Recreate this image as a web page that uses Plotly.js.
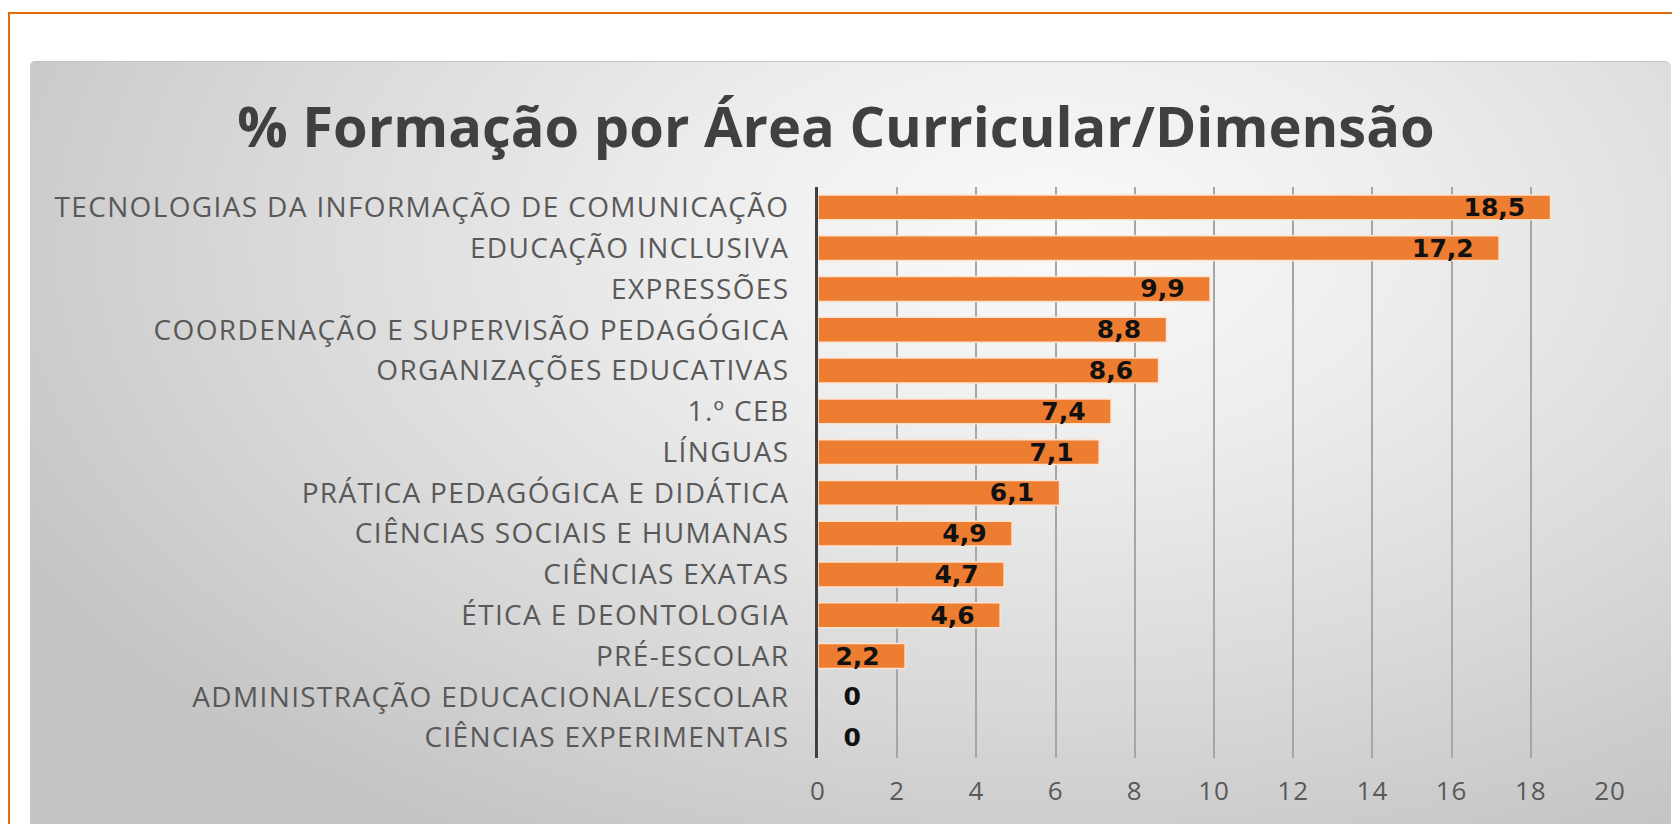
<!DOCTYPE html>
<html>
<head>
<meta charset="utf-8">
<script src="https://cdn.plot.ly/plotly-3.0.1.min.js"></script>
<style>
  html, body { margin:0; padding:0; background:#ffffff; }
  body { width:1672px; height:824px; overflow:hidden; position:relative; }
  #frame { position:absolute; left:8px; top:12px; width:1700px; height:900px;
           border-top:2px solid #e46c0a; border-left:2px solid #e46c0a; }
  #panel { position:absolute; left:30px; top:61px; width:1641px; height:800px;
           border-radius:5px 6px 0 0; border-top:1px solid #c4c4c4;
           background: radial-gradient(ellipse 70% 85% at 62% 22%, #fafafa 0%, #ededed 32%, #d9d9d9 68%, #c5c5c5 100%); }
  #chart { position:absolute; left:0; top:0; width:1672px; height:824px; }
  #chart .ytick text { letter-spacing: 1.35px; }
  #chart .xtick text { letter-spacing: 1px; }
</style>
</head>
<body>
<div id="frame"></div>
<div id="panel"></div>
<div id="chart"></div>
<script>
const categories = [
  "TECNOLOGIAS DA INFORMAÇÃO DE COMUNICAÇÃO",
  "EDUCAÇÃO INCLUSIVA",
  "EXPRESSÕES",
  "COORDENAÇÃO E SUPERVISÃO PEDAGÓGICA",
  "ORGANIZAÇÕES EDUCATIVAS",
  "1.º CEB",
  "LÍNGUAS",
  "PRÁTICA PEDAGÓGICA E DIDÁTICA",
  "CIÊNCIAS SOCIAIS E HUMANAS",
  "CIÊNCIAS EXATAS",
  "ÉTICA E DEONTOLOGIA",
  "PRÉ-ESCOLAR",
  "ADMINISTRAÇÃO EDUCACIONAL/ESCOLAR",
  "CIÊNCIAS EXPERIMENTAIS"
];
const values = [18.5, 17.2, 9.9, 8.8, 8.6, 7.4, 7.1, 6.1, 4.9, 4.7, 4.6, 2.2, 0, 0];
const xTicks = [0, 2, 4, 6, 8, 10, 12, 14, 16, 18, 20];
const chartTitle = "% Formação por Área Curricular/Dimensão";

const PAD = "\u00a0\u00a0\u2009";
const labels = values.map(v => v === 0 ? "0" : v.toFixed(1).replace(".", ","));
const templates = values.map(v => v === 0 ? PAD + "%{text}" : "%{text}" + PAD);
const positions = values.map(v => v === 0 ? "outside" : "inside");
const labelFont = { family: "DejaVu Sans", size: 25, color: "#111111", weight: "bold" };

const trace = {
  type: "bar",
  orientation: "h",
  x: values,
  y: categories,
  text: labels,
  texttemplate: templates,
  textposition: positions,
  insidetextanchor: "end",
  constraintext: "none",
  cliponaxis: false,
  textfont: labelFont,
  insidetextfont: labelFont,
  outsidetextfont: labelFont,
  marker: { color: "#ed7d31", line: { color: "#fbe3d2", width: 1.5 } },
  hoverinfo: "x+y"
};

const layout = {
  width: 1672,
  height: 824,
  paper_bgcolor: "rgba(0,0,0,0)",
  plot_bgcolor: "rgba(0,0,0,0)",
  margin: { l: 818, r: 62, t: 187, b: 66 },
  separators: ",.",
  bargap: 0.39,
  showlegend: false,
  title: {
    text: chartTitle,
    font: { family: "Open Sans", size: 56, color: "#404040", weight: "bold" },
    x: 0.5, xref: "container", xanchor: "center",
    y: 1 - 127 / 824, yref: "container", yanchor: "middle"
  },
  xaxis: {
    range: [0, 20],
    tickvals: xTicks,
    ticktext: xTicks.map(String),
    showgrid: true,
    gridcolor: "#a6a6a6",
    gridwidth: 2,
    zeroline: false,
    showline: false,
    ticks: "",
    ticklabelstandoff: 15,
    tickfont: { family: "Open Sans", size: 26, color: "#595959" },
    fixedrange: true
  },
  yaxis: {
    autorange: "reversed",
    type: "category",
    showgrid: false,
    zeroline: false,
    showline: true,
    linecolor: "#404040",
    linewidth: 3,
    ticks: "",
    ticklabelstandoff: 20,
    tickfont: { family: "Open Sans", size: 28, color: "#595959" },
    fixedrange: true
  }
};

Plotly.newPlot("chart", [trace], layout, { displayModeBar: false, staticPlot: true });
</script>
</body>
</html>
